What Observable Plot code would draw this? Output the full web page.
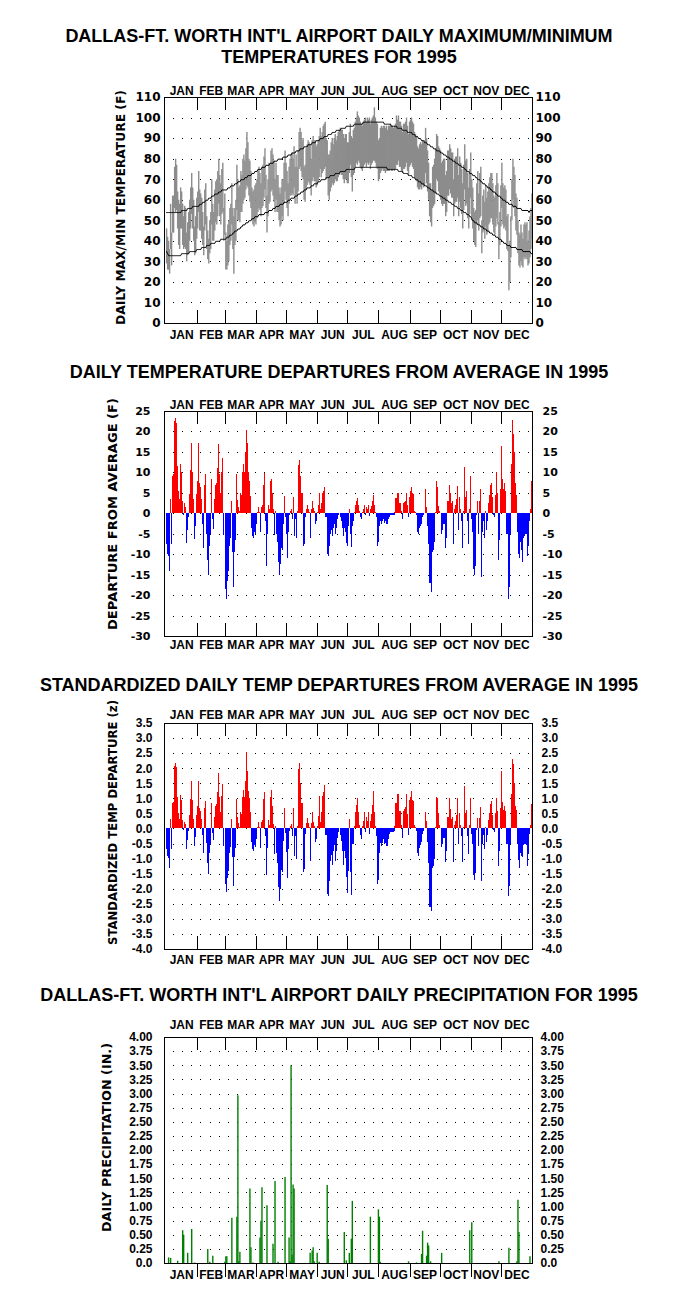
<!DOCTYPE html>
<html><head><meta charset="utf-8">
<script src="https://cdn.jsdelivr.net/npm/d3@7"></script>
<script src="https://cdn.jsdelivr.net/npm/@observablehq/plot@0.6"></script>
<style>
html,body{margin:0;padding:0;background:#fff;}
#wrap{position:relative;width:678px;height:1298px;overflow:hidden;background:#fff;}
</style></head><body><div id="wrap"></div>
<script>
// ---------------- DATA ----------------
const monthNames = ["JAN","FEB","MAR","APR","MAY","JUN","JUL","AUG","SEP","OCT","NOV","DEC"];
const monthStart = [0,31,59,90,120,151,181,212,243,273,304,334];

const tempTicks = [0,10,20,30,40,50,60,70,80,90,100,110];
const tempGrid = [10,20,30,40,50,60,70,80,90,100];
const depTicks = [-30,-25,-20,-15,-10,-5,0,5,10,15,20,25];
const depGrid = [-25,-20,-15,-10,-5,0,5,10,15,20];
const zTicks = [-4,-3.5,-3,-2.5,-2,-1.5,-1,-0.5,0,0.5,1,1.5,2,2.5,3,3.5];
const zGrid = [-3.5,-3,-2.5,-2,-1.5,-1,-0.5,0,0.5,1,1.5,2,2.5,3];
const precipTicks = [0,0.25,0.5,0.75,1,1.25,1.5,1.75,2,2.25,2.5,2.75,3,3.25,3.5,3.75,4];
const precipGrid = [0.25,0.5,0.75,1,1.25,1.5,1.75,2,2.25,2.5,2.75,3,3.25,3.5,3.75];

// daily maximum temperature (F), Jan 1 .. Dec 31
const tmax = [
46,42,40,36,58,44,62,62,76,80,77,64,60,58,66,64,58,52,57,56,44,49,54,60,66,73,66,60,47,52,61,
64,74,65,63,61,54,47,65,68,52,45,41,50,54,70,58,54,65,69,70,74,80,72,68,75,78,56,63,
44,40,48,50,56,58,68,56,52,56,60,77,70,66,67,74,72,80,82,79,85,93,88,80,79,74,66,64,65,67,68,
70,74,76,73,68,76,77,81,85,72,62,70,78,77,84,85,82,79,70,78,72,72,66,63,66,70,70,78,84,78,
74,68,76,80,82,83,80,86,76,82,76,84,93,95,93,89,90,76,77,85,87,89,88,87,80,89,91,89,89,86,87,
89,91,95,91,93,96,97,98,90,89,82,82,84,88,90,87,90,92,89,91,93,94,95,94,94,92,90,92,92,88,
88,93,97,91,90,94,95,98,100,103,101,100,98,97,96,98,99,100,98,100,99,100,97,99,100,101,105,100,98,97,89,
90,95,96,95,96,96,95,96,94,96,96,97,96,96,95,96,97,101,99,101,98,98,96,93,97,97,98,100,96,92,98,
99,100,98,97,93,92,91,86,85,87,88,87,89,88,89,95,90,84,78,68,68,65,76,77,80,85,92,91,86,85,
84,78,79,80,80,72,74,84,84,87,85,83,83,70,80,81,81,85,72,81,78,75,68,77,87,79,80,73,66,75,83,
70,66,56,54,55,68,74,63,73,76,50,62,65,59,67,61,64,68,71,73,73,68,62,61,67,73,68,49,54,67,
78,68,66,67,65,52,53,38,40,52,70,80,76,72,63,61,50,44,43,48,44,41,48,49,48,49,40,45,52,56,63];

// daily minimum temperature (F)
const tmin = [
29,26,26,24,36,28,44,44,56,54,55,46,38,36,46,46,38,36,37,36,30,33,34,40,46,53,46,40,33,34,41,
46,54,45,45,41,38,33,45,48,36,31,29,34,36,48,40,40,45,49,48,52,58,52,48,53,54,40,43,
26,26,28,30,38,40,48,36,24,38,40,55,50,50,49,54,54,58,60,61,65,67,66,62,59,56,50,48,47,49,48,
51,54,56,55,52,56,57,61,65,56,44,52,58,59,64,65,62,59,54,60,54,54,50,47,48,52,50,58,64,60,
56,52,58,62,62,63,62,66,58,62,58,64,75,76,74,71,70,60,59,65,67,69,68,67,62,69,71,69,69,66,67,
69,71,75,71,73,74,75,76,70,71,62,60,64,66,68,67,68,70,69,69,71,72,73,72,72,70,68,70,70,68,
68,73,77,71,64,72,73,76,78,77,79,78,76,75,74,76,77,78,76,78,77,78,75,77,78,79,79,78,76,75,69,
70,73,74,75,74,74,73,74,74,74,74,75,74,74,75,74,75,77,77,79,76,76,74,73,75,75,76,78,74,72,76,
77,78,76,75,71,70,69,66,65,65,66,65,67,66,67,73,68,64,60,52,49,47,56,57,58,63,70,69,64,63,
60,58,57,58,58,52,54,62,62,65,63,61,61,52,58,59,59,61,52,59,56,53,46,55,65,57,58,51,46,53,61,
50,46,40,38,37,48,50,45,51,52,34,44,45,41,47,43,44,48,49,51,51,48,44,43,47,51,48,31,38,47,
56,48,46,47,45,36,35,16,20,32,50,60,56,52,45,43,34,28,27,30,28,27,32,31,32,31,28,29,32,36,41];

// normal daily maximum (F)
const normalMax = [
54,54,54,54,54,54,54,54,54,54,54,54,54,54,54,55,55,55,55,55,55,56,56,56,56,56,57,57,57,57,57,
57,57,58,58,58,59,59,59,60,60,60,61,61,61,62,62,62,63,63,63,63,64,64,64,65,65,65,65,
65,65,66,66,66,67,67,67,67,68,68,68,69,69,69,70,70,70,70,71,71,71,72,72,72,72,73,73,73,74,74,
74,75,75,75,75,76,76,76,76,77,77,77,77,78,78,78,78,79,79,79,79,80,80,80,80,80,81,81,81,81,
81,82,82,82,82,83,83,83,83,84,84,84,84,85,85,85,85,86,86,86,86,87,87,87,87,88,88,88,88,89,89,
89,89,90,90,90,90,91,91,91,91,92,92,92,92,93,93,93,93,94,94,94,94,94,95,95,95,95,95,96,96,
96,96,96,96,96,96,97,97,97,97,97,97,97,97,97,98,98,98,98,98,98,98,98,98,98,98,98,98,98,98,98,
98,98,98,98,98,97,97,97,97,97,97,97,96,96,96,96,96,96,95,95,95,95,95,94,94,94,94,94,93,93,93,
93,93,92,92,92,91,91,91,90,90,90,89,89,89,88,88,88,87,87,87,86,86,86,85,85,85,84,84,84,84,
83,83,83,82,82,82,81,81,81,80,80,80,79,79,79,78,78,78,77,77,77,76,76,76,75,75,74,74,74,73,73,
73,72,72,72,71,71,70,70,70,69,69,68,68,68,67,67,66,66,66,65,65,64,64,64,63,63,62,62,62,61,
61,60,60,60,59,59,59,58,58,58,58,57,57,57,57,56,56,56,56,56,55,55,55,55,55,55,55,54,55,55,55];

// normal daily minimum (F)
const normalMin = [
35,34,33,33,33,33,33,33,33,33,33,33,33,33,33,34,34,34,34,34,34,34,34,35,35,35,35,35,35,35,36,
36,36,36,36,37,37,37,37,37,38,38,38,38,39,39,39,39,39,40,40,40,40,40,41,41,41,41,41,
41,42,42,42,43,43,43,44,44,45,45,45,46,46,46,47,47,48,48,48,49,49,49,50,50,50,51,51,51,52,52,
52,52,53,53,53,53,53,53,54,54,54,54,55,55,55,55,56,56,56,57,57,57,57,58,58,58,58,59,59,59,
59,60,60,60,61,61,61,61,62,62,62,63,63,63,64,64,64,65,65,65,66,66,66,66,67,67,67,68,68,68,68,
69,69,69,70,70,70,70,70,71,71,71,71,72,72,72,72,72,73,73,73,73,73,74,74,74,74,74,74,75,75,
75,75,75,75,75,75,75,76,76,76,76,76,76,76,76,76,76,76,76,76,76,76,76,76,76,76,76,76,76,76,76,
76,76,76,76,76,76,76,76,75,75,75,75,75,75,75,75,75,75,75,74,74,74,74,74,73,73,73,73,73,72,72,
72,72,71,71,71,70,70,70,69,69,69,68,68,68,67,67,67,66,66,66,65,65,65,64,64,64,63,63,63,62,
62,62,61,61,61,60,60,60,59,59,59,58,58,58,57,57,57,56,56,56,55,55,55,54,54,54,53,53,53,52,52,
51,50,50,49,49,49,48,48,48,47,47,47,46,46,46,45,45,45,44,44,44,43,43,43,42,42,42,41,41,41,
40,40,39,39,39,38,38,38,38,37,37,37,37,37,37,36,36,36,36,36,36,35,35,35,35,35,35,35,35,34,34];

// daily departure from average (F)
const departure = [
-7.5,-10,-10.5,-14,3.5,-7.5,9,9.5,22.5,23.3,22,11.5,5.5,3.5,12,10,3,-0.5,2.5,1.5,-7.3,-4,-1,4.8,10.5,17.2,10,3.5,-6.3,-3,4.8,
8,17.2,7.5,6.5,3.5,-2.5,-8.5,7,9.5,-5,-11.5,-15,-8,-5,8.5,-1.5,-3.8,3.5,7,7.5,11,17,9.5,5,10,13.4,-5.3,0,
-18.5,-21,-16.5,-14,-8,-6,3,-9.5,-18,-9.5,-6.5,9.7,3.3,1.5,0.5,5,4.5,10,12,10,15,20.3,17.3,10,8,4.3,-3.5,-5.5,-6,-4.5,-5,
-2.5,0.3,1.5,0.3,-4.5,1.5,2,6.8,9.8,-2,-13,-5,2,1,7.8,8.5,5,1,-5.2,0.5,-5,-7,-12,-15,-12.5,-8.5,-9,-2.5,4.3,-1,
-5,-11,-4.5,-0.5,0.5,1,-1.5,4,-5.5,-1.5,-6,0.5,11.8,13.1,9,5,5,-8,-7.5,-1,1,2,1,0.3,-6,1,3,1.2,0.5,-2.5,-2,
0.3,2,5,1,2.5,5,5.5,6.5,-1,-1,-10,-10.5,-8,-5,-4,-5.5,-3.5,-2.5,-5,-3.5,-1.5,-0.5,0,-1,-2,-3.5,-5.5,-3.5,-4.5,-7.3,
-8,-3,1,-5,-8.3,-3,-2,0.3,2,3,3.8,2,0.5,-0.8,-1.3,0.3,1,2,-0.5,1.5,1,2,-0.7,1,1.8,3,4.5,2,0.3,-1,-8,
-7,-3.2,-2,-2.5,-2,-1.5,-2.3,-2,-2.5,-1.5,-0.8,-0.5,-0.5,-0.3,-0.5,-0.3,0.3,3.7,3,5,2.5,2.5,0.5,-1.3,2.5,2.8,3,5,2,-1,4,
5.5,6.5,5,4.7,0.5,0.3,-0.5,-4.5,-5,-3.5,-3,-2.5,-1,-0.5,0,6,1.5,-3,-7.5,-17,-17,-19.3,-9.5,-9,-7,0.2,7.8,6.5,1.8,0.5,
0,-5,-4,-2.5,-2.5,-8.5,-6,3,3,7,5,2.5,3,-7.5,1,2,3.5,6.7,-4,4,1,-2,-8.5,0.5,11.2,4,5.5,-2,-7.5,1,9,
-1.5,-4.5,-13.5,-15,-13,-0.5,3,-5,3,6,-15.5,-4.5,-2,-6,0.5,-4,-2,2.5,4.5,7,7.5,4,-0.5,-1,4.5,10,5,-11.5,-6.5,6,
16.5,8.5,6,7.3,5.5,-5,-5,-21,-18,-5,12,22.7,19.5,15,7.3,4.5,-4.5,-10,-11,-7,-9,-12,-6,-5.5,-5,-5,-10.5,-8,-2,1,8];

// standardized daily departure (z)
const zscore = [
-0.69,-0.93,-0.97,-1.3,0.32,-0.69,0.83,0.88,2.08,2.16,2.04,1.06,0.51,0.32,1.11,0.93,0.28,-0.05,0.23,0.14,-0.68,-0.37,-0.09,0.44,0.97,1.59,0.93,0.32,-0.58,-0.28,0.44,
0.73,1.56,0.68,0.59,0.32,-0.23,-0.81,0.67,0.9,-0.48,-1.15,-1.5,-0.8,-0.5,0.85,-0.15,-0.38,0.38,0.76,0.82,1.2,1.85,1.03,0.54,1.09,1.46,-0.58,0,
-1.85,-2.1,-1.65,-1.4,-0.8,-0.6,0.3,-0.95,-1.9,-0.95,-0.65,0.97,0.39,0.18,0.06,0.53,0.47,1.05,1.26,1.05,1.58,2.54,1.9,1.25,1,0.54,-0.44,-0.69,-0.75,-0.56,-0.63,
-0.36,0.04,0.21,0.04,-0.64,0.21,0.29,0.97,1.2,-0.25,-1.55,-0.65,0.27,0.13,1.05,1.28,0.75,0.16,-0.84,0.08,-0.81,-1.13,-1.94,-2.42,-2.02,-1.37,-1.45,-0.4,0.69,-0.16,
-0.77,-1.65,-0.69,-0.08,0.08,0.15,-0.25,0.67,-0.92,-0.25,-1,0.08,1.97,2.18,1.5,0.83,0.83,-1.45,-1.36,-0.18,0.18,0.36,0.18,0.05,-1.09,0.18,0.55,0.22,0.09,-0.45,-0.36,
0.07,0.43,1.09,0.22,0.54,1.09,1.2,1.45,-0.22,-0.22,-2.17,-2.25,-1.74,-1.09,-0.87,-1.2,-0.76,-0.54,-1.09,-0.76,-0.33,-0.11,0,-0.22,-0.43,-0.76,-1.2,-0.76,-0.98,-1.6,
-2.15,-1.4,0.3,-1.45,-2.2,-0.5,-0.53,0.08,0.53,0.79,1,0.53,0.13,-0.21,-0.34,0.08,0.26,0.53,-0.13,0.39,0.26,0.53,-0.18,0.26,0.47,0.79,1.25,0.53,0.08,-0.26,-1.85,
-1.7,-0.8,-0.47,-0.58,-0.47,-0.35,-0.53,-0.47,-0.58,-0.35,-0.19,-0.12,-0.12,-0.07,-0.12,-0.07,0.07,0.86,0.7,1.16,0.58,0.58,0.12,-0.3,0.58,0.65,0.7,1.16,0.47,-0.23,0.93,
1.06,1.25,0.96,0.9,0.1,0.06,-0.1,-0.82,-0.91,-0.64,-0.55,-0.45,-0.18,-0.09,0,0.55,0.25,-0.45,-1.15,-2.6,-2.6,-2.75,-1.3,-1.25,-1,0.05,1.05,1,0.5,0.1,
0,-0.63,-0.5,-0.31,-0.31,-1.1,-0.75,0.38,0.38,1,0.63,0.31,0.38,-1.1,0.13,0.25,0.44,1,-0.5,0.5,0.13,-0.25,-1.1,0.06,1.4,0.5,0.6,-0.25,-0.85,0.13,1,
-0.17,-0.51,-1.53,-1.7,-1.48,-0.06,0.34,-0.57,0.34,0.7,-1.75,-0.51,-0.23,-0.68,0.06,-0.45,-0.23,0.28,0.51,0.8,0.9,0.45,-0.06,-0.11,0.51,1,0.57,-1.25,-0.74,0.68,
1.9,0.88,0.62,0.75,0.57,-0.52,-0.52,-2.25,-1.9,-0.5,1.15,2.3,2.15,1.5,0.75,0.6,-0.5,-1.05,-1.3,-0.8,-0.9,-0.95,-0.55,-0.5,-0.5,-0.55,-1.25,-0.85,-0.2,0.1,0.8];

// daily precipitation: day of year (0 = Jan 1) and inches
const precipDay = [2,4,11,16,17,21,25,28,41,43,46,58,59,60,65,70,71,72,73,83,84,86,93,94,95,100,106,108,111,118,122,123,124,125,126,127,143,145,146,147,150,152,160,161,177,179,182,184,185,203,211,212,213,241,249,254,255,259,260,261,263,274,302,304,331,341,349,350,351,362];
const precipIn = [0.1,0.09,0.04,0.58,0.5,0.18,0.6,0.01,0.25,0.02,0.13,0.02,0.12,0.12,0.8,0.82,2.97,0.03,0.2,1.32,0.28,0.01,0.45,0.75,1.34,1.02,0.34,1.45,0.02,1.52,0.45,0.03,3.5,0.15,1.39,1.32,0.18,0.22,0.28,0.03,0.18,0.02,1.38,0.43,0.55,0.05,0.18,0.43,1.1,0.82,0.95,0.82,0.02,0.03,0.01,0.16,0.57,0.13,0.36,0.31,0.03,0.18,0.58,0.72,0.03,0.27,0.03,1.12,0.55,0.12];

const titleLines = [
  "DALLAS-FT. WORTH INT'L AIRPORT DAILY MAXIMUM/MINIMUM",
  "TEMPERATURES FOR 1995",
  "DAILY TEMPERATURE DEPARTURES FROM AVERAGE IN 1995",
  "STANDARDIZED DAILY TEMP DEPARTURES FROM AVERAGE IN 1995",
  "DALLAS-FT. WORTH INT'L AIRPORT DAILY PRECIPITATION FOR 1995"
];
const yTitles = [
  "DAILY MAX/MIN TEMPERATURE (F)",
  "DEPARTURE FROM AVERAGE (F)",
  "STANDARDIZED TEMP DEPARTURE (z)",
  "DAILY PRECIPITATION (IN.)"
];

// ---------------- BUILD ----------------
const rows = tmax.map((v, i) => ({d: i, tmax: v, tmin: tmin[i], nmax: normalMax[i], nmin: normalMin[i], dep: departure[i], z: zscore[i]}));
const precip = precipDay.map((d, i) => ({d, p: precipIn[i]}));
const months = monthNames.map((n, i) => ({name: n, mid: (monthStart[i] + (i < 11 ? monthStart[i + 1] : 365)) / 2}));
const monthTicks = monthStart.slice(1);

const wrap = document.getElementById("wrap");
const W = 678, ML = 164, MR = 146, XDOM = [-1.6, 365];
const SANS = "'Liberation Sans', Arial, Helvetica, sans-serif";
const DEJA = "'DejaVu Sans', Verdana, sans-serif";

function monthMarks(plotH, topDy, botDy, outward) {
  const tk = {x: d => d, stroke: "black", strokeWidth: 1, shapeRendering: "crispEdges"};
  const lab = {x: "mid", text: "name", fontFamily: SANS, fontWeight: "bold", fontSize: 12, fill: "black"};
  return [
    Plot.ruleX(monthTicks, {...tk, insetBottom: plotH - 13}),
    outward ? Plot.ruleX(monthTicks, {...tk, insetTop: plotH, insetBottom: -14})
            : Plot.ruleX(monthTicks, {...tk, insetTop: plotH - 13}),
    Plot.text(months, {...lab, frameAnchor: "top", dy: -topDy}),
    Plot.text(months, {...lab, frameAnchor: "bottom", dy: botDy})
  ];
}
function yLabelMarks(ticks, fmt, dxL, dxR, font, size) {
  const o = {y: d => d, text: fmt, fontFamily: font, fontSize: size, fontWeight: "bold", fill: "black"};
  return [
    Plot.text(ticks, {...o, frameAnchor: "left", textAnchor: "end", dx: dxL}),
    Plot.text(ticks, {...o, frameAnchor: "right", textAnchor: "start", dx: dxR})
  ];
}
function grid(vals) {
  return Plot.ruleY(vals, {y: d => d, stroke: "black", strokeWidth: 1, strokeDasharray: "1,8.1", shapeRendering: "crispEdges"});
}
function panel(top, mt, fh, mb, ydom, marks) {
  const svg = Plot.plot({
    width: W, height: mt + fh + mb,
    marginLeft: ML, marginRight: MR, marginTop: mt, marginBottom: mb,
    x: {domain: XDOM, axis: null},
    y: {domain: ydom, axis: null},
    style: {background: "transparent", overflow: "visible"},
    marks: [...marks, Plot.frame({stroke: "black", strokeWidth: 1, shapeRendering: "crispEdges"})]
  });
  svg.style.position = "absolute";
  svg.style.left = "0px";
  svg.style.top = top + "px";
  wrap.appendChild(svg);
}

// Panel 1: max / min temperatures
panel(66, 31, 226, 24, [0, 110], [
  grid(tempGrid),
  Plot.ruleX(rows, {x: r => r.d + 0.5, y1: "tmin", y2: "tmax", stroke: "#8c8c8c", strokeWidth: 1.4}),
  Plot.line(rows, {x: r => r.d + 0.5, y: "nmax", stroke: "black", strokeWidth: 1}),
  Plot.line(rows, {x: r => r.d + 0.5, y: "nmin", stroke: "black", strokeWidth: 1}),
  ...monthMarks(226, 11, 15, false),
  ...yLabelMarks(tempTicks, d => String(d), -4, 3, DEJA, 12)
]);

// Panel 2: departures
panel(385, 26, 225, 24, [-30, 25], [
  grid(depGrid),
  Plot.rect(rows.filter(r => r.dep > 0), {x1: r => r.d, x2: r => r.d + 1.05, y1: 0, y2: "dep", fill: "#ff0000", shapeRendering: "crispEdges"}),
  Plot.rect(rows.filter(r => r.dep < 0), {x1: r => r.d, x2: r => r.d + 1.05, y1: 0, y2: "dep", fill: "#0000ff", shapeRendering: "crispEdges"}),
  ...monthMarks(225, 11, 12.5, false),
  ...yLabelMarks(depTicks, d => String(d), -14, 10, DEJA, 11)
]);

// Panel 3: standardized departures
panel(697, 26, 226, 26, [-4, 3.5], [
  grid(zGrid),
  Plot.rect(rows.filter(r => r.z > 0), {x1: r => r.d, x2: r => r.d + 1.05, y1: 0, y2: "z", fill: "#ff0000", shapeRendering: "crispEdges"}),
  Plot.rect(rows.filter(r => r.z < 0), {x1: r => r.d, x2: r => r.d + 1.05, y1: 0, y2: "z", fill: "#0000ff", shapeRendering: "crispEdges"}),
  ...monthMarks(226, 13, 14, false),
  ...yLabelMarks(zTicks, d => d.toFixed(1), -12, 9, SANS, 12)
]);

// Panel 4: precipitation
panel(1005, 32, 226, 30, [0, 4], [
  grid(precipGrid),
  Plot.ruleX(precip, {x: r => r.d + 0.5, y1: 0, y2: "p", stroke: "#008000", strokeWidth: 1.4}),
  ...monthMarks(226, 17, 15, true),
  ...yLabelMarks(precipTicks, d => d === 0 ? "0.0" : d.toFixed(2), -12, 8, SANS, 12)
]);

// Titles and rotated axis titles
const ov = d3.select(wrap).append("svg")
  .attr("width", W).attr("height", 1298)
  .style("position", "absolute").style("left", "0px").style("top", "0px").style("overflow", "visible");
const titlePos = [42, 63, 378, 690.5, 1000.5];
ov.selectAll("text.ttl").data(titleLines).join("text").attr("class", "ttl")
  .attr("x", 339).attr("y", (d, i) => titlePos[i])
  .attr("text-anchor", "middle").attr("font-family", SANS).attr("font-weight", "bold").attr("font-size", 18)
  .attr("fill", "black").text(d => d);
const yPos = [{x: 121, y: 207.5, len: 235}, {x: 113, y: 514, len: 232}, {x: 113, y: 822.5, len: 245}, {x: 107, y: 1137.5, len: 189}];
ov.selectAll("text.yt").data(yTitles).join("text").attr("class", "yt")
  .attr("transform", (d, i) => `translate(${yPos[i].x},${yPos[i].y}) rotate(-90)`)
  .attr("text-anchor", "middle").attr("dy", "0.36em")
  .attr("textLength", (d, i) => yPos[i].len).attr("lengthAdjust", "spacingAndGlyphs")
  .attr("font-family", DEJA).attr("font-weight", "bold").attr("font-size", 12)
  .attr("fill", "black").text(d => d);
</script>
</body></html>
